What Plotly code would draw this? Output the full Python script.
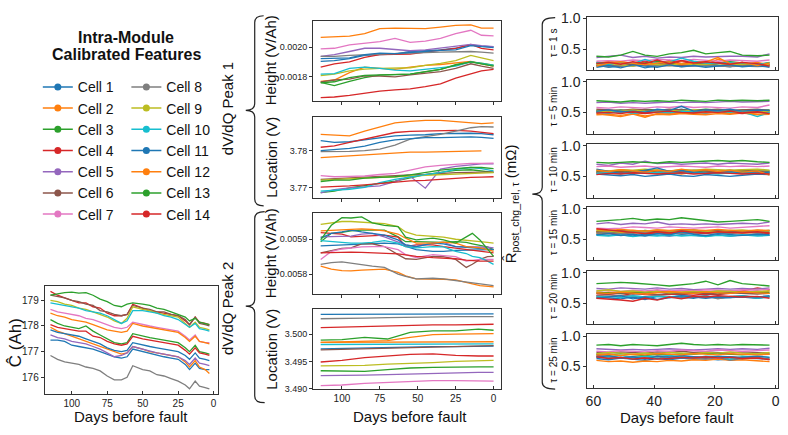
import plotly.graph_objects as go

W, H = 788, 435
FONT = "Liberation Sans, Arial, sans-serif"

COLORS = ["#1f77b4", "#ff7f0e", "#2ca02c", "#d62728", "#9467bd", "#8c564b", "#e377c2",
          "#7f7f7f", "#bcbd22", "#17becf", "#1f77b4", "#ff7f0e", "#2ca02c", "#d62728"]
CELLS = ["Cell %d" % i for i in range(1, 15)]

# ---------------- capacity (Ah) ----------------
days_cap = [115, 110, 105, 100, 95, 90, 85, 80, 75, 70, 65, 61, 57, 50, 45, 40, 35, 30, 25, 20, 17, 13, 10, 6, 3]
cap = [
    [177.45,177.45,177.40,177.25,177.20,177.15,177.10,177.00,176.90,176.80,176.75,176.80,177.10,177.00,176.95,176.85,176.80,176.75,176.70,176.50,176.30,176.55,176.35,176.30,176.30],
    [177.95,177.80,177.70,177.60,177.50,177.40,177.30,177.20,177.10,177.00,176.90,176.95,177.20,177.10,177.00,176.95,176.90,176.85,176.80,176.60,176.40,176.65,176.40,176.30,176.15],
    [178.25,178.10,178.00,177.95,177.90,178.00,177.80,177.65,177.50,177.35,177.30,177.35,177.70,177.60,177.55,177.50,177.45,177.40,177.35,177.15,177.00,177.25,177.00,176.95,176.90],
    [179.35,179.20,179.10,179.00,178.90,178.90,178.75,178.70,178.50,178.40,178.40,178.45,178.85,178.70,178.60,178.55,178.50,178.45,178.40,178.20,178.05,178.35,178.15,178.10,178.05],
    [177.65,177.55,177.50,177.40,177.35,177.30,177.20,177.10,176.95,176.80,176.85,176.95,177.20,177.10,177.00,176.95,176.90,176.85,176.80,176.65,176.50,176.75,176.55,176.50,176.45],
    [179.20,179.15,179.10,179.00,178.95,178.85,178.80,178.60,178.55,178.45,178.40,178.45,178.80,178.70,178.65,178.55,178.55,178.45,178.40,178.25,178.05,178.35,178.10,178.05,178.00],
    [178.65,178.55,178.50,178.45,178.40,178.30,178.25,178.15,178.05,177.95,177.90,177.95,178.15,178.05,178.00,177.95,177.90,177.85,177.80,177.60,177.45,177.65,177.40,177.35,177.35],
    [176.85,176.70,176.60,176.55,176.50,176.40,176.35,176.25,176.05,175.90,175.90,176.00,176.45,176.30,176.25,176.10,176.05,175.95,175.85,175.70,175.55,175.85,175.65,175.60,175.55],
    [179.00,178.95,178.85,178.80,178.70,178.65,178.55,178.45,178.35,178.20,178.10,178.30,178.75,178.65,178.60,178.50,178.45,178.40,178.35,178.10,177.95,178.15,177.95,177.90,177.85],
    [178.90,178.85,178.80,178.75,178.70,178.60,178.55,178.50,178.40,178.25,178.10,178.20,178.60,178.60,178.55,178.50,178.40,178.35,178.25,178.05,177.95,178.10,177.90,177.85,177.80],
    [177.85,177.75,177.70,177.65,177.60,177.50,177.40,177.30,177.15,177.05,177.00,177.05,177.35,177.25,177.20,177.15,177.10,177.05,177.00,176.85,176.70,176.95,176.75,176.70,176.65],
    [178.50,178.40,178.35,178.25,178.20,178.15,178.05,177.95,177.85,177.80,177.75,177.80,178.10,178.00,177.95,177.90,177.85,177.80,177.75,177.55,177.40,177.60,177.40,177.35,177.30],
    [179.20,179.25,179.30,179.32,179.28,179.30,179.20,179.05,178.95,178.80,178.75,178.85,178.90,178.85,178.80,178.70,178.65,178.55,178.45,178.35,178.20,178.30,178.15,178.10,178.05],
    [178.05,177.95,177.90,177.85,177.80,177.80,177.60,177.55,177.40,177.30,177.25,177.30,177.60,177.50,177.45,177.40,177.35,177.30,177.25,177.05,176.90,177.15,176.95,176.90,176.85],
]

# ---------------- dV/dQ peak 1 ----------------
days_p1 = [114, 105, 95, 85, 75, 65, 55, 45, 35, 25, 15, 8, 0]
p1_height = [
    [0.001904,0.001909,0.001922,0.001944,0.001949,0.001953,0.001971,0.001976,0.001982,0.001993,0.002016,0.002007,0.002002],
    [0.001767,0.001776,0.001827,0.001864,0.001856,0.001849,0.001864,0.001876,0.001882,0.001893,0.001904,0.001887,0.001871],
    [0.001760,0.001738,0.001767,0.001793,0.001809,0.001811,0.001816,0.001831,0.001849,0.001882,0.001900,0.001891,0.001878],
    [0.001864,0.001887,0.001900,0.001931,0.001949,0.001953,0.001953,0.001967,0.001980,0.001993,0.002020,0.001993,0.001982],
    [0.001938,0.001949,0.001971,0.001993,0.001993,0.001987,0.001976,0.001982,0.001993,0.002004,0.002020,0.002011,0.002004],
    [0.001764,0.001776,0.001782,0.001804,0.001802,0.001798,0.001811,0.001820,0.001833,0.001856,0.001887,0.001871,0.001856],
    [0.001989,0.001993,0.002016,0.002027,0.002038,0.002060,0.002033,0.002042,0.002060,0.002093,0.002116,0.002082,0.002078],
    [0.001938,0.001938,0.001944,0.001949,0.001953,0.001956,0.001960,0.001964,0.001967,0.001971,0.001971,0.001967,0.001960],
    [0.001807,0.001816,0.001838,0.001850,0.001856,0.001860,0.001860,0.001876,0.001889,0.001909,0.001944,0.001927,0.001909],
    [0.001816,0.001820,0.001856,0.001864,0.001856,0.001844,0.001838,0.001849,0.001860,0.001871,0.001900,0.001887,0.001876],
    [0.001922,0.001922,0.001927,0.001949,0.001960,0.001956,0.001964,0.001971,0.001978,0.001982,0.002011,0.002004,0.001998],
    [0.002067,0.002069,0.002076,0.002093,0.002127,0.002131,0.002127,0.002127,0.002138,0.002149,0.002153,0.002131,0.002131],
    [0.001756,0.001764,0.001793,0.001807,0.001811,0.001811,0.001816,0.001833,0.001849,0.001878,0.001900,0.001887,0.001871],
    [0.001656,0.001660,0.001671,0.001687,0.001700,0.001709,0.001716,0.001731,0.001749,0.001789,0.001816,0.001838,0.001849],
]
p1_location = [
    [3.7827,3.7822,3.7824,3.7829,3.7835,3.7840,3.7842,3.7843,3.7846,3.7847,3.7847,3.7846,3.7843],
    [3.7781,3.7783,3.7787,3.7788,3.7791,3.7793,3.7796,3.7796,3.7797,3.7798,3.7799,3.7799,None],
    [3.7686,3.7690,3.7699,3.7704,3.7711,3.7717,3.7726,3.7735,3.7741,3.7746,3.7748,3.7745,3.7741],
    [3.7809,3.7813,3.7822,3.7831,3.7842,3.7849,3.7852,3.7853,3.7854,3.7855,3.7853,3.7850,3.7846],
    [3.7685,3.7694,3.7699,3.7701,3.7704,3.7716,3.7730,3.7698,3.7750,3.7757,3.7761,3.7764,3.7764],
    [3.7722,3.7724,3.7726,3.7727,3.7729,3.7732,3.7734,3.7735,3.7738,3.7740,3.7741,3.7742,3.7742],
    [3.7732,3.7729,3.7730,3.7731,3.7735,3.7738,3.7747,3.7756,3.7760,3.7763,3.7765,3.7765,3.7766],
    [3.7797,3.7797,3.7798,3.7800,3.7804,3.7815,3.7831,3.7838,3.7844,3.7853,3.7862,3.7865,3.7864],
    [3.7720,3.7722,3.7724,3.7726,3.7727,3.7729,3.7731,3.7733,3.7735,3.7736,3.7738,3.7739,3.7740],
    [3.7690,3.7692,3.7695,3.7700,3.7713,3.7722,3.7729,3.7735,3.7740,3.7749,3.7754,3.7751,3.7745],
    [3.7800,3.7803,3.7806,3.7812,3.7822,3.7829,3.7833,3.7835,3.7835,3.7837,3.7837,3.7836,3.7833],
    [3.7844,3.7842,3.7840,3.7853,3.7865,3.7875,3.7879,3.7882,3.7882,3.7879,3.7875,3.7873,3.7875],
    [3.7716,3.7720,3.7720,3.7725,3.7727,3.7729,3.7734,3.7741,3.7747,3.7751,3.7754,3.7754,3.7751],
    [3.7701,3.7702,3.7704,3.7707,3.7711,3.7715,3.7718,3.7719,3.7722,3.7725,3.7727,3.7728,3.7729],
]

# ---------------- dV/dQ peak 2 ----------------
days_p2h = [114, 107, 100, 94, 87, 80, 72, 63, 58, 51, 40, 33, 25, 18, 14, 9, 4, 0]
p2_height = [
    [0.005881,0.005882,0.005883,0.005884,0.005886,0.005887,0.005889,0.005887,0.005879,0.005870,0.005865,0.005865,0.005868,0.005869,0.005870,0.005870,0.005870,0.005870],
    [0.005823,0.005814,0.005810,0.005809,0.005811,0.005812,0.005814,0.005805,0.005795,0.005786,0.005786,0.005785,0.005783,0.005777,0.005772,0.005767,0.005764,0.005763],
    [0.005893,0.005917,0.005920,0.005924,0.005926,0.005926,0.005926,0.005907,0.005893,0.005893,0.005892,0.005891,0.005893,0.005891,0.005887,0.005883,0.005878,0.005870],
    [0.005919,0.005918,0.005915,0.005907,0.005909,0.005911,0.005912,0.005906,0.005879,0.005884,0.005884,0.005879,0.005875,0.005870,0.005868,0.005865,0.005863,0.005861],
    [0.005907,0.005907,0.005909,0.005909,0.005915,0.005917,0.005907,0.005893,0.005884,0.005879,0.005889,0.005891,0.005879,0.005879,0.005879,0.005879,0.005877,0.005875],
    [0.005861,0.005868,0.005874,0.005875,0.005887,0.005887,0.005879,0.005856,0.005844,0.005842,0.005851,0.005850,0.005842,0.005819,0.005828,0.005842,0.005850,0.005851],
    [0.005842,0.005865,0.005872,0.005875,0.005878,0.005879,0.005879,0.005870,0.005856,0.005847,0.005856,0.005853,0.005850,0.005837,0.005839,0.005842,0.005842,0.005842],
    [0.005828,0.005833,0.005835,0.005831,0.005828,0.005823,0.005819,0.005800,0.005793,0.005786,0.005788,0.005786,0.005781,0.005777,0.005775,0.005774,0.005771,0.005767],
    [0.005943,0.005947,0.005951,0.005951,0.005949,0.005947,0.005945,0.005936,0.005921,0.005912,0.005909,0.005906,0.005900,0.005896,0.005894,0.005893,0.005891,0.005889],
    [0.005896,0.005893,0.005891,0.005889,0.005889,0.005891,0.005896,0.005889,0.005879,0.005875,0.005879,0.005878,0.005865,0.005859,0.005851,0.005847,0.005837,0.005828],
    [0.005903,0.005917,0.005921,0.005926,0.005921,0.005917,0.005912,0.005898,0.005884,0.005879,0.005889,0.005887,0.005879,0.005877,0.005875,0.005873,0.005871,0.005870],
    [0.005924,0.005926,0.005928,0.005930,0.005930,0.005928,0.005924,0.005915,0.005903,0.005889,0.005889,0.005892,0.005889,0.005879,0.005878,0.005875,0.005870,0.005865],
    [0.005898,0.005940,0.005962,0.005961,0.005964,0.005947,0.005940,0.005936,0.005906,0.005898,0.005903,0.005898,0.005889,0.005907,0.005917,0.005898,0.005870,0.005851],
    [0.005861,0.005862,0.005863,0.005863,0.005862,0.005861,0.005861,0.005858,0.005855,0.005851,0.005847,0.005846,0.005844,0.005840,0.005838,0.005837,0.005837,0.005837],
]
days_p2l = [114, 100, 85, 70, 55, 40, 25, 10, 0]
p2_location = [
    [3.4973,3.4974,3.4975,3.4976,3.4976,3.4977,3.4977,3.4978,3.4978],
    [3.4985,3.4985,3.4985,3.4985,3.4985,3.4985,3.4986,3.4986,3.4986],
    [3.4933,3.4933,3.4932,3.4935,3.4938,3.4939,3.4940,3.4940,3.4940],
    [3.5012,3.5013,3.5014,3.5015,3.5016,3.5017,3.5017,3.5018,3.5018],
    [3.4924,3.4924,3.4925,3.4926,3.4927,3.4929,3.4929,3.4930,3.4930],
    [3.4971,3.4972,3.4973,3.4974,3.4976,3.4977,3.4978,3.4979,3.4979],
    [3.4906,3.4907,3.4910,3.4912,3.4914,3.4915,3.4915,3.4914,3.4914],
    [3.5028,3.5028,3.5029,3.5030,3.5031,3.5031,3.5032,3.5032,3.5032],
    [3.4942,3.4942,3.4943,3.4945,3.4946,3.4948,3.4950,3.4951,3.4952],
    [3.4981,3.4981,3.4981,3.4981,3.4981,3.4981,3.4981,3.4982,3.4982],
    [3.5036,3.5036,3.5037,3.5037,3.5037,3.5037,3.5037,3.5037,3.5037],
    [3.4985,3.4986,3.4987,3.4988,3.4994,3.4999,3.5000,3.5001,3.5001],
    [3.4989,3.4990,3.4994,3.4991,3.5003,3.5006,3.5006,3.5009,3.5007],
    [3.4949,3.4952,3.4957,3.4960,3.4963,3.4964,3.4961,3.4960,3.4960],
]

# ---------------- relative post-charge resistance (mOhm) ----------------
days_r = [59, 55, 51, 47, 43, 39, 35, 31, 27, 23, 19, 15, 11, 6, 2]
tau_labels = ["τ = 1 s", "τ = 5 min", "τ = 10 min", "τ = 15 min", "τ = 20 min", "τ = 25 min"]
r_1s = [
    [0.24,0.20,0.22,0.25,0.19,0.23,0.26,0.22,0.24,0.27,0.23,0.21,0.25,0.22,0.24],
    [0.26,0.30,0.27,0.24,0.28,0.25,0.27,0.30,0.26,0.24,0.33,0.27,0.25,0.28,0.24],
    [0.28,0.26,0.29,0.25,0.27,0.30,0.27,0.25,0.28,0.22,0.26,0.29,0.27,0.24,0.28],
    [0.27,0.25,0.28,0.26,0.30,0.25,0.31,0.26,0.29,0.27,0.28,0.26,0.28,0.22,0.25],
    [0.36,0.38,0.40,0.36,0.38,0.35,0.37,0.36,0.38,0.37,0.38,0.38,0.38,0.37,0.42],
    [0.23,0.24,0.22,0.25,0.23,0.24,0.25,0.23,0.24,0.25,0.23,0.24,0.23,0.24,0.23],
    [0.30,0.31,0.30,0.32,0.31,0.33,0.32,0.31,0.33,0.32,0.30,0.32,0.31,0.30,0.32],
    [0.22,0.21,0.23,0.22,0.24,0.22,0.23,0.21,0.22,0.23,0.22,0.21,0.22,0.21,0.22],
    [0.25,0.26,0.24,0.22,0.26,0.25,0.23,0.26,0.24,0.25,0.26,0.24,0.25,0.26,0.24],
    [0.27,0.25,0.28,0.26,0.33,0.27,0.29,0.35,0.30,0.27,0.26,0.28,0.27,0.25,0.27],
    [0.20,0.23,0.19,0.24,0.22,0.20,0.24,0.21,0.23,0.20,0.22,0.24,0.21,0.23,0.20],
    [0.22,0.27,0.29,0.26,0.24,0.27,0.29,0.25,0.27,0.29,0.36,0.26,0.28,0.23,0.27],
    [0.38,0.37,0.40,0.46,0.40,0.38,0.42,0.44,0.48,0.42,0.44,0.46,0.40,0.39,0.40],
    [0.26,0.28,0.25,0.29,0.26,0.32,0.26,0.31,0.27,0.29,0.27,0.25,0.28,0.26,0.22],
]
r_5min = [
    [0.52,0.50,0.53,0.51,0.54,0.50,0.52,0.55,0.51,0.53,0.52,0.54,0.51,0.53,0.52],
    [0.46,0.47,0.45,0.48,0.44,0.47,0.46,0.48,0.47,0.46,0.48,0.47,0.49,0.46,0.47],
    [0.53,0.52,0.54,0.52,0.55,0.53,0.52,0.54,0.53,0.55,0.54,0.52,0.54,0.53,0.54],
    [0.50,0.49,0.51,0.50,0.48,0.50,0.49,0.51,0.50,0.49,0.51,0.50,0.48,0.50,0.49],
    [0.66,0.67,0.65,0.66,0.65,0.66,0.67,0.66,0.67,0.66,0.67,0.68,0.67,0.68,0.68],
    [0.55,0.54,0.53,0.55,0.54,0.53,0.55,0.54,0.53,0.54,0.55,0.53,0.54,0.55,0.53],
    [0.58,0.57,0.59,0.58,0.57,0.59,0.58,0.60,0.58,0.59,0.58,0.57,0.59,0.58,0.62],
    [0.51,0.52,0.50,0.52,0.51,0.53,0.52,0.51,0.52,0.50,0.52,0.51,0.52,0.51,0.50],
    [0.53,0.51,0.52,0.54,0.52,0.51,0.53,0.52,0.54,0.52,0.53,0.51,0.52,0.53,0.51],
    [0.50,0.49,0.52,0.48,0.51,0.50,0.49,0.52,0.50,0.49,0.52,0.50,0.51,0.43,0.50],
    [0.52,0.54,0.51,0.52,0.50,0.55,0.53,0.60,0.52,0.54,0.53,0.55,0.52,0.54,0.53],
    [0.48,0.46,0.43,0.47,0.42,0.48,0.47,0.49,0.48,0.50,0.49,0.48,0.50,0.47,0.48],
    [0.69,0.68,0.67,0.69,0.68,0.69,0.68,0.70,0.69,0.68,0.70,0.69,0.70,0.69,0.70],
    [0.49,0.50,0.48,0.51,0.49,0.50,0.52,0.50,0.49,0.51,0.50,0.52,0.49,0.51,0.48],
]
r_10min = [
    [0.54,0.52,0.51,0.53,0.50,0.52,0.54,0.51,0.50,0.53,0.52,0.50,0.52,0.54,0.53],
    [0.57,0.56,0.58,0.55,0.57,0.56,0.58,0.54,0.57,0.56,0.58,0.57,0.55,0.57,0.56],
    [0.58,0.57,0.59,0.58,0.60,0.57,0.59,0.58,0.57,0.59,0.58,0.60,0.58,0.59,0.58],
    [0.56,0.55,0.57,0.56,0.55,0.57,0.56,0.55,0.57,0.56,0.57,0.55,0.56,0.57,0.55],
    [0.70,0.68,0.72,0.70,0.75,0.71,0.72,0.70,0.71,0.72,0.70,0.72,0.71,0.70,0.72],
    [0.59,0.58,0.60,0.59,0.58,0.60,0.59,0.58,0.60,0.59,0.58,0.59,0.60,0.58,0.59],
    [0.66,0.67,0.65,0.66,0.67,0.65,0.66,0.67,0.66,0.65,0.67,0.66,0.67,0.66,0.67],
    [0.56,0.57,0.55,0.56,0.57,0.55,0.56,0.57,0.56,0.55,0.56,0.57,0.55,0.56,0.57],
    [0.60,0.59,0.61,0.60,0.62,0.60,0.59,0.61,0.60,0.62,0.61,0.60,0.61,0.62,0.60],
    [0.55,0.56,0.54,0.57,0.55,0.56,0.58,0.55,0.57,0.56,0.54,0.56,0.57,0.55,0.56],
    [0.62,0.58,0.55,0.56,0.60,0.64,0.58,0.60,0.56,0.55,0.57,0.58,0.56,0.55,0.57],
    [0.60,0.58,0.61,0.59,0.57,0.60,0.58,0.62,0.59,0.61,0.58,0.60,0.57,0.59,0.52],
    [0.73,0.72,0.73,0.74,0.73,0.72,0.74,0.73,0.74,0.75,0.76,0.75,0.76,0.74,0.73],
    [0.53,0.55,0.54,0.56,0.55,0.54,0.55,0.56,0.54,0.55,0.56,0.55,0.54,0.55,0.54],
]
r_15min = [
    [0.58,0.56,0.57,0.55,0.58,0.56,0.55,0.57,0.56,0.55,0.57,0.55,0.56,0.57,0.56],
    [0.60,0.59,0.61,0.60,0.62,0.60,0.63,0.61,0.60,0.62,0.61,0.62,0.60,0.61,0.60],
    [0.62,0.60,0.63,0.61,0.64,0.62,0.60,0.63,0.65,0.62,0.64,0.63,0.62,0.64,0.63],
    [0.62,0.60,0.58,0.61,0.59,0.60,0.58,0.61,0.60,0.59,0.61,0.60,0.62,0.60,0.59],
    [0.75,0.77,0.74,0.76,0.75,0.78,0.74,0.75,0.74,0.75,0.74,0.75,0.76,0.75,0.78],
    [0.63,0.62,0.64,0.63,0.62,0.64,0.63,0.65,0.63,0.62,0.64,0.63,0.62,0.63,0.64],
    [0.68,0.67,0.68,0.70,0.69,0.68,0.70,0.69,0.68,0.69,0.70,0.68,0.69,0.70,0.72],
    [0.60,0.61,0.59,0.60,0.62,0.60,0.61,0.59,0.60,0.61,0.60,0.59,0.61,0.60,0.61],
    [0.64,0.63,0.62,0.64,0.63,0.65,0.63,0.62,0.64,0.63,0.62,0.64,0.65,0.63,0.64],
    [0.56,0.55,0.57,0.54,0.56,0.55,0.57,0.55,0.56,0.54,0.56,0.55,0.57,0.55,0.56],
    [0.57,0.59,0.56,0.58,0.55,0.59,0.57,0.62,0.58,0.56,0.59,0.57,0.56,0.58,0.57],
    [0.66,0.64,0.66,0.65,0.63,0.65,0.64,0.66,0.65,0.64,0.66,0.65,0.63,0.65,0.64],
    [0.79,0.80,0.82,0.84,0.81,0.83,0.82,0.85,0.83,0.80,0.78,0.79,0.80,0.82,0.79],
    [0.67,0.65,0.63,0.61,0.59,0.62,0.60,0.63,0.61,0.60,0.62,0.61,0.60,0.62,0.60],
]
r_20min = [
    [0.60,0.59,0.57,0.60,0.56,0.61,0.59,0.60,0.58,0.62,0.58,0.59,0.60,0.58,0.60],
    [0.66,0.68,0.67,0.69,0.68,0.70,0.69,0.68,0.70,0.69,0.68,0.70,0.69,0.68,0.70],
    [0.68,0.67,0.66,0.68,0.67,0.69,0.68,0.66,0.68,0.67,0.69,0.68,0.67,0.68,0.67],
    [0.63,0.64,0.62,0.66,0.64,0.63,0.65,0.64,0.63,0.65,0.64,0.66,0.70,0.75,0.72],
    [0.74,0.73,0.75,0.74,0.73,0.75,0.73,0.74,0.72,0.73,0.74,0.73,0.74,0.73,0.75],
    [0.66,0.65,0.67,0.65,0.66,0.64,0.66,0.65,0.67,0.66,0.65,0.67,0.66,0.65,0.66],
    [0.70,0.71,0.69,0.71,0.70,0.72,0.70,0.71,0.70,0.72,0.71,0.70,0.72,0.71,0.73],
    [0.62,0.61,0.63,0.62,0.60,0.62,0.61,0.58,0.60,0.62,0.57,0.61,0.62,0.60,0.61],
    [0.70,0.72,0.69,0.70,0.68,0.69,0.67,0.68,0.69,0.68,0.70,0.69,0.68,0.69,0.70],
    [0.60,0.61,0.59,0.62,0.60,0.61,0.60,0.62,0.60,0.59,0.61,0.60,0.62,0.58,0.61],
    [0.58,0.60,0.62,0.57,0.60,0.56,0.59,0.62,0.60,0.58,0.60,0.59,0.61,0.60,0.62],
    [0.67,0.66,0.68,0.66,0.65,0.67,0.69,0.67,0.66,0.68,0.67,0.66,0.68,0.67,0.66],
    [0.82,0.83,0.84,0.83,0.82,0.80,0.78,0.80,0.82,0.86,0.80,0.87,0.82,0.80,0.78],
    [0.58,0.57,0.55,0.53,0.58,0.55,0.60,0.57,0.61,0.60,0.62,0.61,0.60,0.61,0.58],
]
r_25min = [
    [0.63,0.61,0.64,0.62,0.60,0.63,0.61,0.64,0.62,0.63,0.61,0.62,0.64,0.63,0.62],
    [0.60,0.58,0.59,0.57,0.59,0.58,0.60,0.59,0.61,0.60,0.62,0.60,0.61,0.60,0.58],
    [0.70,0.69,0.71,0.70,0.68,0.70,0.69,0.71,0.70,0.72,0.71,0.70,0.69,0.71,0.70],
    [0.68,0.66,0.64,0.66,0.65,0.67,0.66,0.65,0.66,0.64,0.65,0.66,0.64,0.65,0.62],
    [0.79,0.78,0.77,0.78,0.77,0.78,0.79,0.78,0.77,0.78,0.79,0.78,0.79,0.78,0.80],
    [0.73,0.72,0.74,0.73,0.72,0.74,0.73,0.75,0.73,0.74,0.73,0.72,0.74,0.73,0.72],
    [0.75,0.74,0.76,0.75,0.74,0.76,0.75,0.77,0.76,0.75,0.77,0.76,0.75,0.76,0.77],
    [0.66,0.64,0.65,0.63,0.64,0.66,0.63,0.65,0.64,0.62,0.65,0.60,0.63,0.64,0.62],
    [0.71,0.73,0.72,0.70,0.72,0.71,0.73,0.72,0.71,0.73,0.72,0.74,0.72,0.71,0.73],
    [0.67,0.66,0.68,0.65,0.67,0.66,0.68,0.66,0.64,0.67,0.66,0.62,0.66,0.67,0.65],
    [0.65,0.68,0.64,0.66,0.62,0.67,0.65,0.68,0.66,0.65,0.67,0.66,0.65,0.67,0.65],
    [0.69,0.70,0.68,0.70,0.69,0.71,0.70,0.69,0.71,0.70,0.69,0.71,0.70,0.69,0.70],
    [0.85,0.86,0.84,0.86,0.85,0.84,0.86,0.88,0.86,0.85,0.86,0.85,0.86,0.85,0.85],
    [0.66,0.63,0.65,0.62,0.64,0.62,0.63,0.65,0.64,0.66,0.64,0.65,0.63,0.64,0.61],
]

# ---------------- helpers ----------------
def fx(p):
    return p / W

def fy(p):
    return 1 - p / H

def dom_x(a, b):
    return [fx(a), fx(b)]

def dom_y(top, bottom):
    return [fy(bottom), fy(top)]

fig = go.Figure()

AX = dict(showline=True, linecolor="#333", linewidth=1.1, mirror=True, ticks="outside",
          ticklen=3, tickwidth=1, tickcolor="#333", showgrid=False, zeroline=False,
          tickfont=dict(family=FONT, size=9, color="#222"), fixedrange=True)

def add_panel(idx, days, series, xdom, ydom, xrange, yrange, xtickvals, ytickvals, ytext=None,
              xlabels=True, xfont=9, yfont=9, xticks="outside", lw=1.3):
    xa = "xaxis" if idx == 1 else "xaxis%d" % idx
    ya = "yaxis" if idx == 1 else "yaxis%d" % idx
    xr = "x" if idx == 1 else "x%d" % idx
    yr = "y" if idx == 1 else "y%d" % idx
    for i, vals in enumerate(series):
        fig.add_trace(go.Scatter(x=days, y=vals, mode="lines", xaxis=xr, yaxis=yr,
                                 line=dict(color=COLORS[i], width=lw), showlegend=False,
                                 connectgaps=False, hoverinfo="skip"))
    xd = dict(AX, domain=xdom, range=xrange, anchor=yr, tickvals=xtickvals,
              showticklabels=xlabels, ticks=xticks)
    xd["tickfont"] = dict(family=FONT, size=xfont, color="#222")
    yd = dict(AX, domain=ydom, range=yrange, anchor=xr, tickvals=ytickvals)
    if ytext is not None:
        yd["ticktext"] = ytext
    yd["tickfont"] = dict(family=FONT, size=yfont, color="#222")
    fig.update_layout({xa: xd, ya: yd})

# capacity
add_panel(1, days_cap, cap, dom_x(43, 217), dom_y(287, 398), [119, -3], [175.35, 179.57],
          [100, 75, 50, 25, 0], [176, 177, 178, 179], xfont=10, yfont=10, xticks="inside")

mid_x = dom_x(312.7, 501.7)
mid_rng = [119, -5]
mid_ticks = [100, 75, 50, 25, 0]
add_panel(2, days_p1, p1_height, mid_x, dom_y(15, 97.7), mid_rng, [0.001631, 0.002182],
          mid_ticks, [0.0018, 0.0020], ["0.0018", "0.0020"], xlabels=False)
add_panel(3, days_p1, p1_location, mid_x, dom_y(114.3, 196.7), mid_rng, [3.7672, 3.7890],
          mid_ticks, [3.77, 3.78], ["3.77", "3.78"], xlabels=False)
add_panel(4, days_p2h, p2_height, mid_x, dom_y(212.7, 295), mid_rng, [0.005744, 0.0059745],
          mid_ticks, [0.0058, 0.0059], ["0.0058", "0.0059"], xlabels=False)
add_panel(5, days_p2l, p2_location, mid_x, dom_y(311, 393.3), mid_rng, [3.4899, 3.50456],
          mid_ticks, [3.490, 3.495, 3.500], ["3.490", "3.495", "3.500"], xfont=10, xticks="inside")

right_x = dom_x(588.3, 780)
right_tops = [11, 76, 141.7, 206, 271.7, 336.7]
r_sets = [r_1s, r_5min, r_10min, r_15min, r_20min, r_25min]
for k in range(6):
    add_panel(6 + k, days_r, r_sets[k], right_x, dom_y(right_tops[k], right_tops[k] + 55),
              [62, -0.8], [0.15, 1.03], [60, 40, 20, 0], [0.5, 1.0], ["0.5", "1.0"],
              xlabels=(k == 5), xfont=14, yfont=14, xticks="inside", lw=1.4)

# legend-only traces
for i in range(14):
    fig.add_trace(go.Scatter(x=[None], y=[None], mode="lines+markers", name=CELLS[i],
                             line=dict(color=COLORS[i], width=1.5),
                             marker=dict(color=COLORS[i], size=7),
                             legend="legend" if i < 7 else "legend2", showlegend=True))

LEG = dict(font=dict(family=FONT, size=14, color="#111"), bgcolor="rgba(0,0,0,0)",
           xanchor="left", yanchor="top", tracegroupgap=0, itemwidth=30)
fig.update_layout(
    legend=dict(LEG, x=fx(36), y=fy(67)),
    legend2=dict(LEG, x=fx(125), y=fy(67)),
)

ann = []
def text(x, y, s, size=15, angle=0, bold=False, xanchor="center"):
    ann.append(dict(x=fx(x), y=fy(y), xref="paper", yref="paper", text=("<b>%s</b>" % s) if bold else s,
                    showarrow=False, textangle=angle, xanchor=xanchor, yanchor="middle",
                    font=dict(family=FONT, size=size, color="#111")))

text(125, 32, "Intra-Module", 16, bold=True)
text(125, 50, "Calibrated Features", 16, bold=True)
text(13, 345, "Ĉ (Ah)", 17, angle=-90)
text(130, 421, "Days before fault", 15)
text(410, 421, "Days before fault", 15)
text(678, 422, "Days before fault", 15)
text(226, 105, "dV/dQ Peak 1", 15, angle=-90)
text(226, 310, "dV/dQ Peak 2", 15, angle=-90)
text(270, 56, "Height (V/Ah)", 15, angle=-90)
text(270, 155, "Location (V)", 15, angle=-90)
text(270, 254, "Height (V/Ah)", 15, angle=-90)
text(270, 352, "Location (V)", 15, angle=-90)
text(512, 203, "R\u0302<sub>post_chg_rel, τ</sub> (mΩ)", 15, angle=-90)
for k in range(6):
    text(554, right_tops[k] + 27, tau_labels[k], 10, angle=-90)
fig.update_layout(annotations=ann)

def brace(x_line, top, tip_y, bottom, tip_x, hook_x):
    pts = ("M {hx},{t} Q {xl},{t} {xl},{t2} L {xl},{m1} Q {xl},{m} {tx},{m} "
           "Q {xl},{m} {xl},{m2} L {xl},{b2} Q {xl},{b} {hx},{b}")
    def X(v): return "%.5f" % fx(v)
    def Y(v): return "%.5f" % fy(v)
    return pts.format(hx=X(hook_x), xl=X(x_line), tx=X(tip_x), t=Y(top), t2=Y(top + 7),
                      m1=Y(tip_y - 7), m=Y(tip_y), m2=Y(tip_y + 7), b2=Y(bottom - 7), b=Y(bottom))

shapes = []
for (xl, t, m, b, tx, hx) in [(254, 10, 107, 205, 245, 263), (254, 211, 308, 407, 245, 264),
                              (543, 12, 193, 393, 533, 556)]:
    shapes.append(dict(type="path", xref="paper", yref="paper", path=brace(xl, t, m, b, tx, hx),
                       line=dict(color="#222", width=1.2)))
fig.update_layout(shapes=shapes)

fig.update_layout(width=W, height=H, margin=dict(l=0, r=0, t=0, b=0),
                  paper_bgcolor="white", plot_bgcolor="white",
                  font=dict(family=FONT, color="#222"))

fig.write_html("out.html", include_plotlyjs=True, config={"displayModeBar": False})
